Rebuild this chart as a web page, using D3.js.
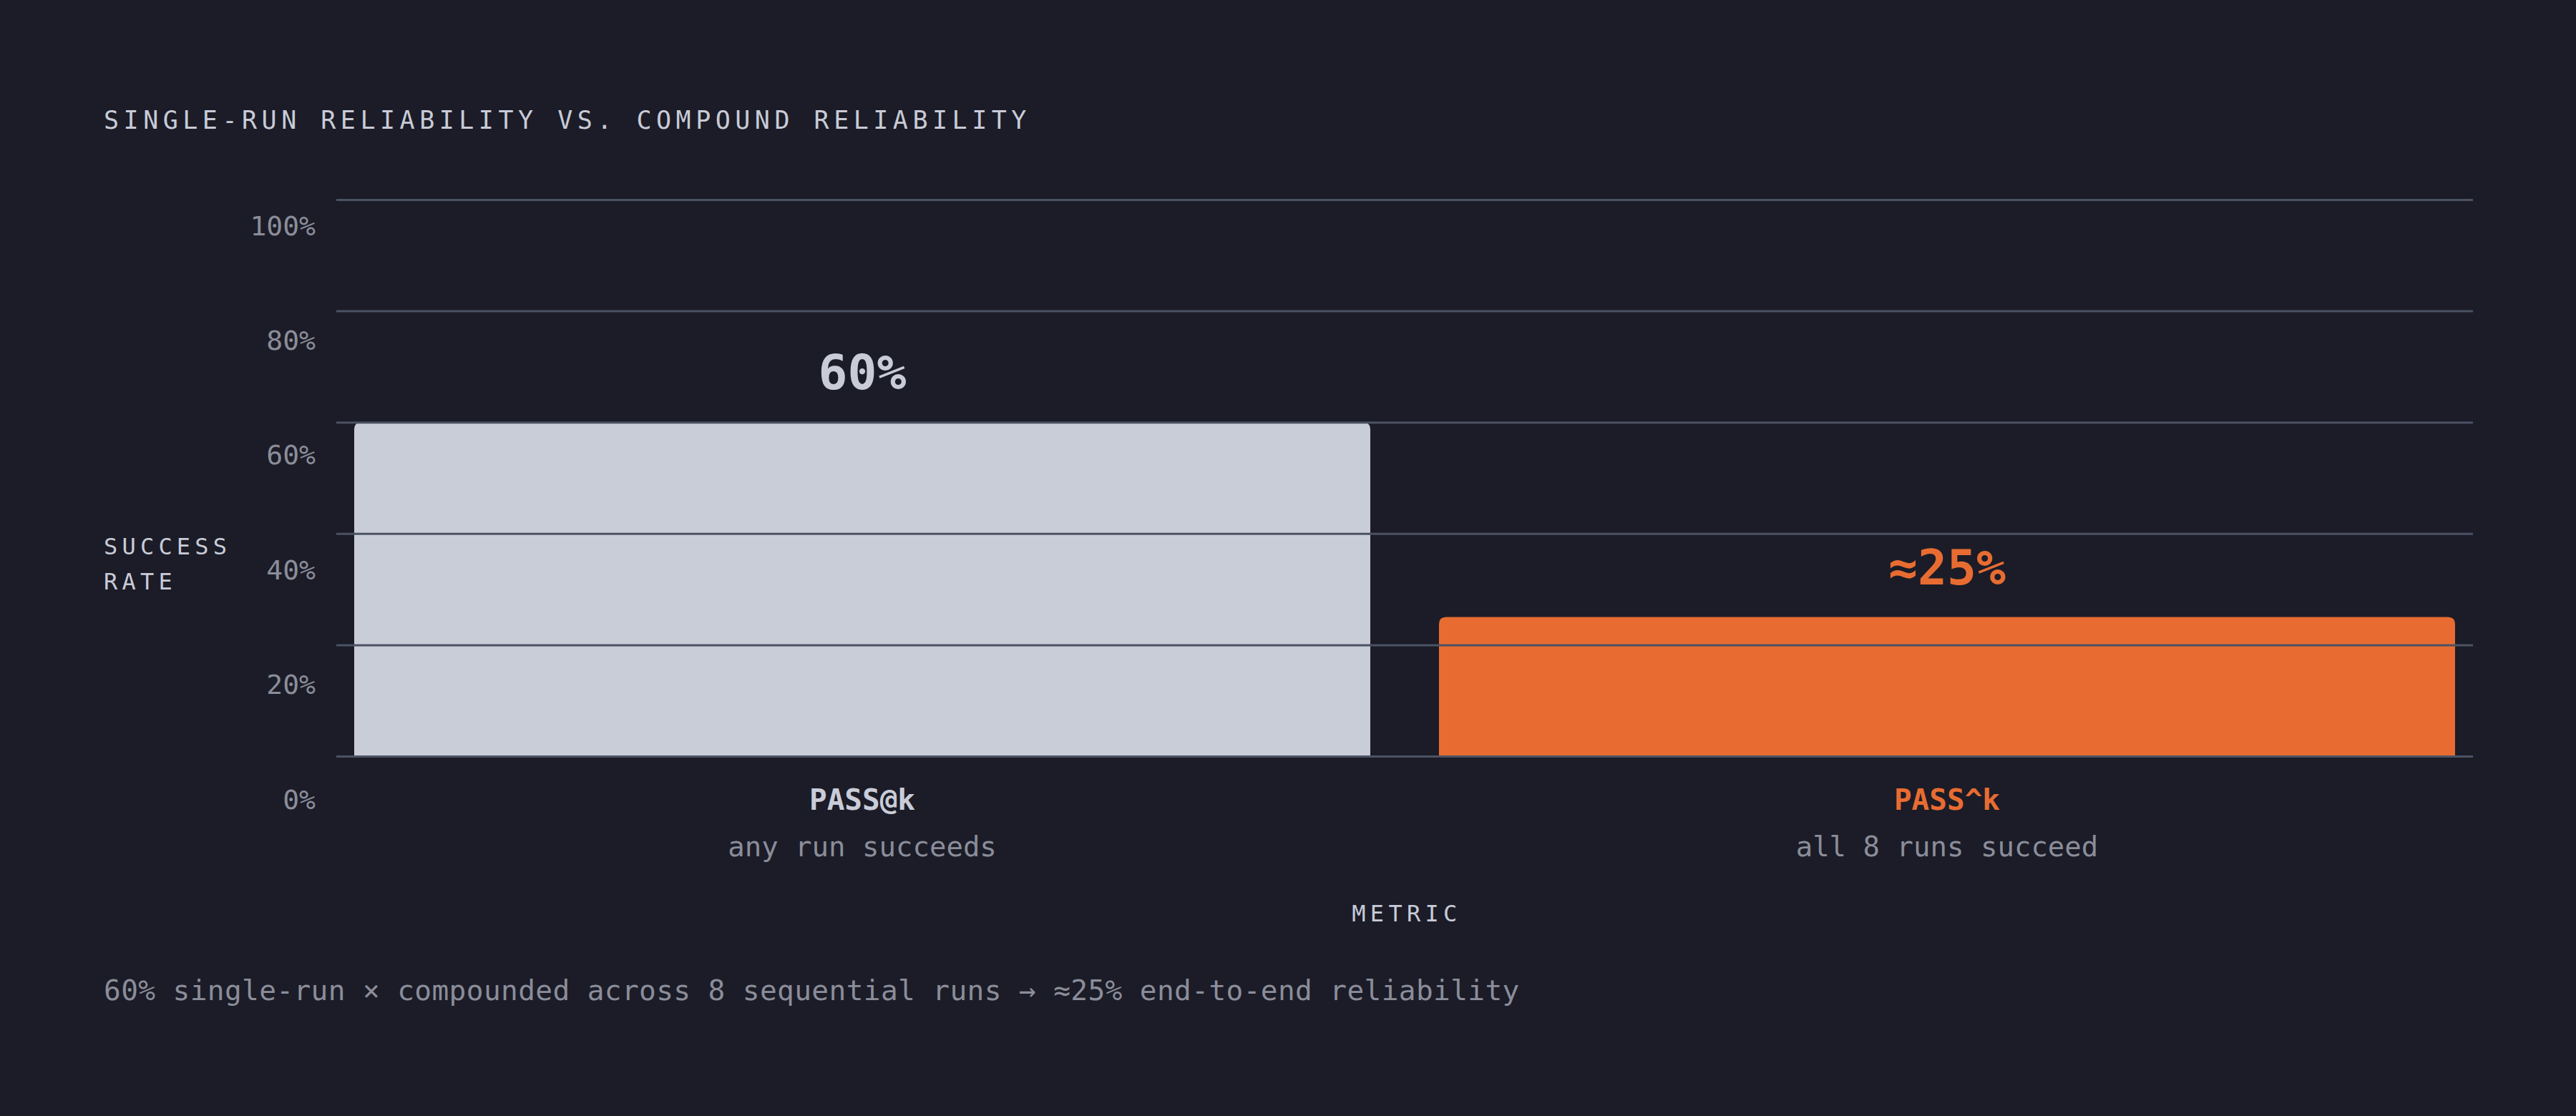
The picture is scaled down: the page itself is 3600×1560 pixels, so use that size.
<!DOCTYPE html>
<html>
<head>
<meta charset="utf-8">
<script src="https://cdn.jsdelivr.net/npm/d3@7"></script>
<style>
  html, body { margin: 0; padding: 0; background: #1b1c27; }
  svg { display: block; }
  text { font-family: "DejaVu Sans Mono", "Liberation Mono", monospace; }
</style>
</head>
<body>
<svg id="chart" width="3600" height="1560"></svg>
<script>
// ---- data ----
const categories = ["PASS@k", "PASS^k"];
const subtitles = ["any run succeeds", "all 8 runs succeed"];
const values = [60, 25];
const valueLabels = ["60%", "≈25%"];
const yTicks = [0, 20, 40, 60, 80, 100];
const title = "SINGLE-RUN RELIABILITY VS. COMPOUND RELIABILITY";
const yTitle = ["SUCCESS", "RATE"];
const xTitle = "METRIC";
const footnote = "60% single-run × compounded across 8 sequential runs → ≈25% end-to-end reliability";

// ---- style ----
const BG = "#1b1c27";
const GRID = "#4b5264";
const LIGHT = "#c8cbd7";
const MUTED = "#8b8d9a";
const barColors = ["#c9cdd8", "#e86c32"];
const labelColors = ["#c9ccd8", "#e86c32"];

const svg = d3.select("#chart");
svg.append("rect").attr("width", 3600).attr("height", 1560).attr("fill", BG);

const plotLeft = 470, plotRight = 3456, plotTop = 279, plotBottom = 1057;

const x = d3.scaleBand().domain(categories).range([plotLeft, plotRight])
  .paddingInner(0.0633).paddingOuter(0.0165);
const y = d3.scaleLinear().domain([0, 100]).range([plotBottom, plotTop]);
// tick labels sit on their own slightly wider rhythm
const yLab = d3.scaleLinear().domain([0, 100]).range([1130, 328]);

// title
svg.append("text").attr("x", 145).attr("y", 180)
  .attr("fill", LIGHT).attr("font-size", 35).attr("letter-spacing", 6.5)
  .text(title);

// y axis title
svg.append("text").attr("x", 145).attr("y", 775)
  .attr("fill", LIGHT).attr("font-size", 32).attr("letter-spacing", 6.2)
  .selectAll("tspan").data(yTitle).join("tspan")
  .attr("x", 145).attr("dy", (d, i) => i === 0 ? 0 : 49).text(d => d);

// bars (rounded top corners)
const r = 10;
function barPath(d, i) {
  const x0 = x(categories[i]), w = x.bandwidth();
  const y0 = y(d), y1 = y(0);
  return `M${x0},${y1}V${y0 + r}Q${x0},${y0} ${x0 + r},${y0}H${x0 + w - r}Q${x0 + w},${y0} ${x0 + w},${y0 + r}V${y1}Z`;
}
svg.append("g").selectAll("path").data(values).join("path")
  .attr("d", barPath)
  .attr("fill", (d, i) => barColors[i]);

// gridlines (drawn over bars)
const gridAxis = d3.axisLeft(y).tickValues(yTicks).tickSize(-(plotRight - plotLeft)).tickFormat("");
const gg = svg.append("g").attr("transform", `translate(${plotLeft},0)`).call(gridAxis);
gg.select(".domain").remove();
gg.selectAll(".tick line").attr("stroke", GRID).attr("stroke-width", 3);

// y tick labels
const labAxis = d3.axisLeft(yLab).tickValues(yTicks).tickSize(0).tickFormat(d => d + "%");
const lg = svg.append("g").attr("transform", `translate(441,0)`).call(labAxis);
lg.select(".domain").remove();
lg.selectAll(".tick text")
  .attr("x", 0).attr("dy", 0)
  .attr("fill", MUTED).attr("font-size", 38)
  .attr("font-family", "DejaVu Sans Mono, monospace");

// value labels
svg.append("g").selectAll("text").data(values).join("text")
  .attr("x", (d, i) => x(categories[i]) + x.bandwidth() / 2)
  .attr("y", d => y(d) - 46)
  .attr("text-anchor", "middle")
  .attr("font-size", 68).attr("font-weight", "bold")
  .attr("fill", (d, i) => labelColors[i])
  .text((d, i) => valueLabels[i]);

// category labels
svg.append("g").selectAll("text").data(categories).join("text")
  .attr("x", d => x(d) + x.bandwidth() / 2)
  .attr("y", 1132)
  .attr("text-anchor", "middle")
  .attr("font-size", 41).attr("font-weight", "bold")
  .attr("fill", (d, i) => labelColors[i])
  .text(d => d);

svg.append("g").selectAll("text").data(subtitles).join("text")
  .attr("x", (d, i) => x(categories[i]) + x.bandwidth() / 2)
  .attr("y", 1197)
  .attr("text-anchor", "middle")
  .attr("font-size", 39)
  .attr("fill", MUTED)
  .text(d => d);

// x axis title
svg.append("text").attr("x", (plotLeft + plotRight) / 2 + 3).attr("y", 1288)
  .attr("text-anchor", "middle")
  .attr("fill", LIGHT).attr("font-size", 32).attr("letter-spacing", 6.3)
  .text(xTitle);

// footnote
svg.append("text").attr("x", 145).attr("y", 1398)
  .attr("fill", MUTED).attr("font-size", 39.5).attr("letter-spacing", 0.35)
  .text(footnote);
</script>
</body>
</html>
